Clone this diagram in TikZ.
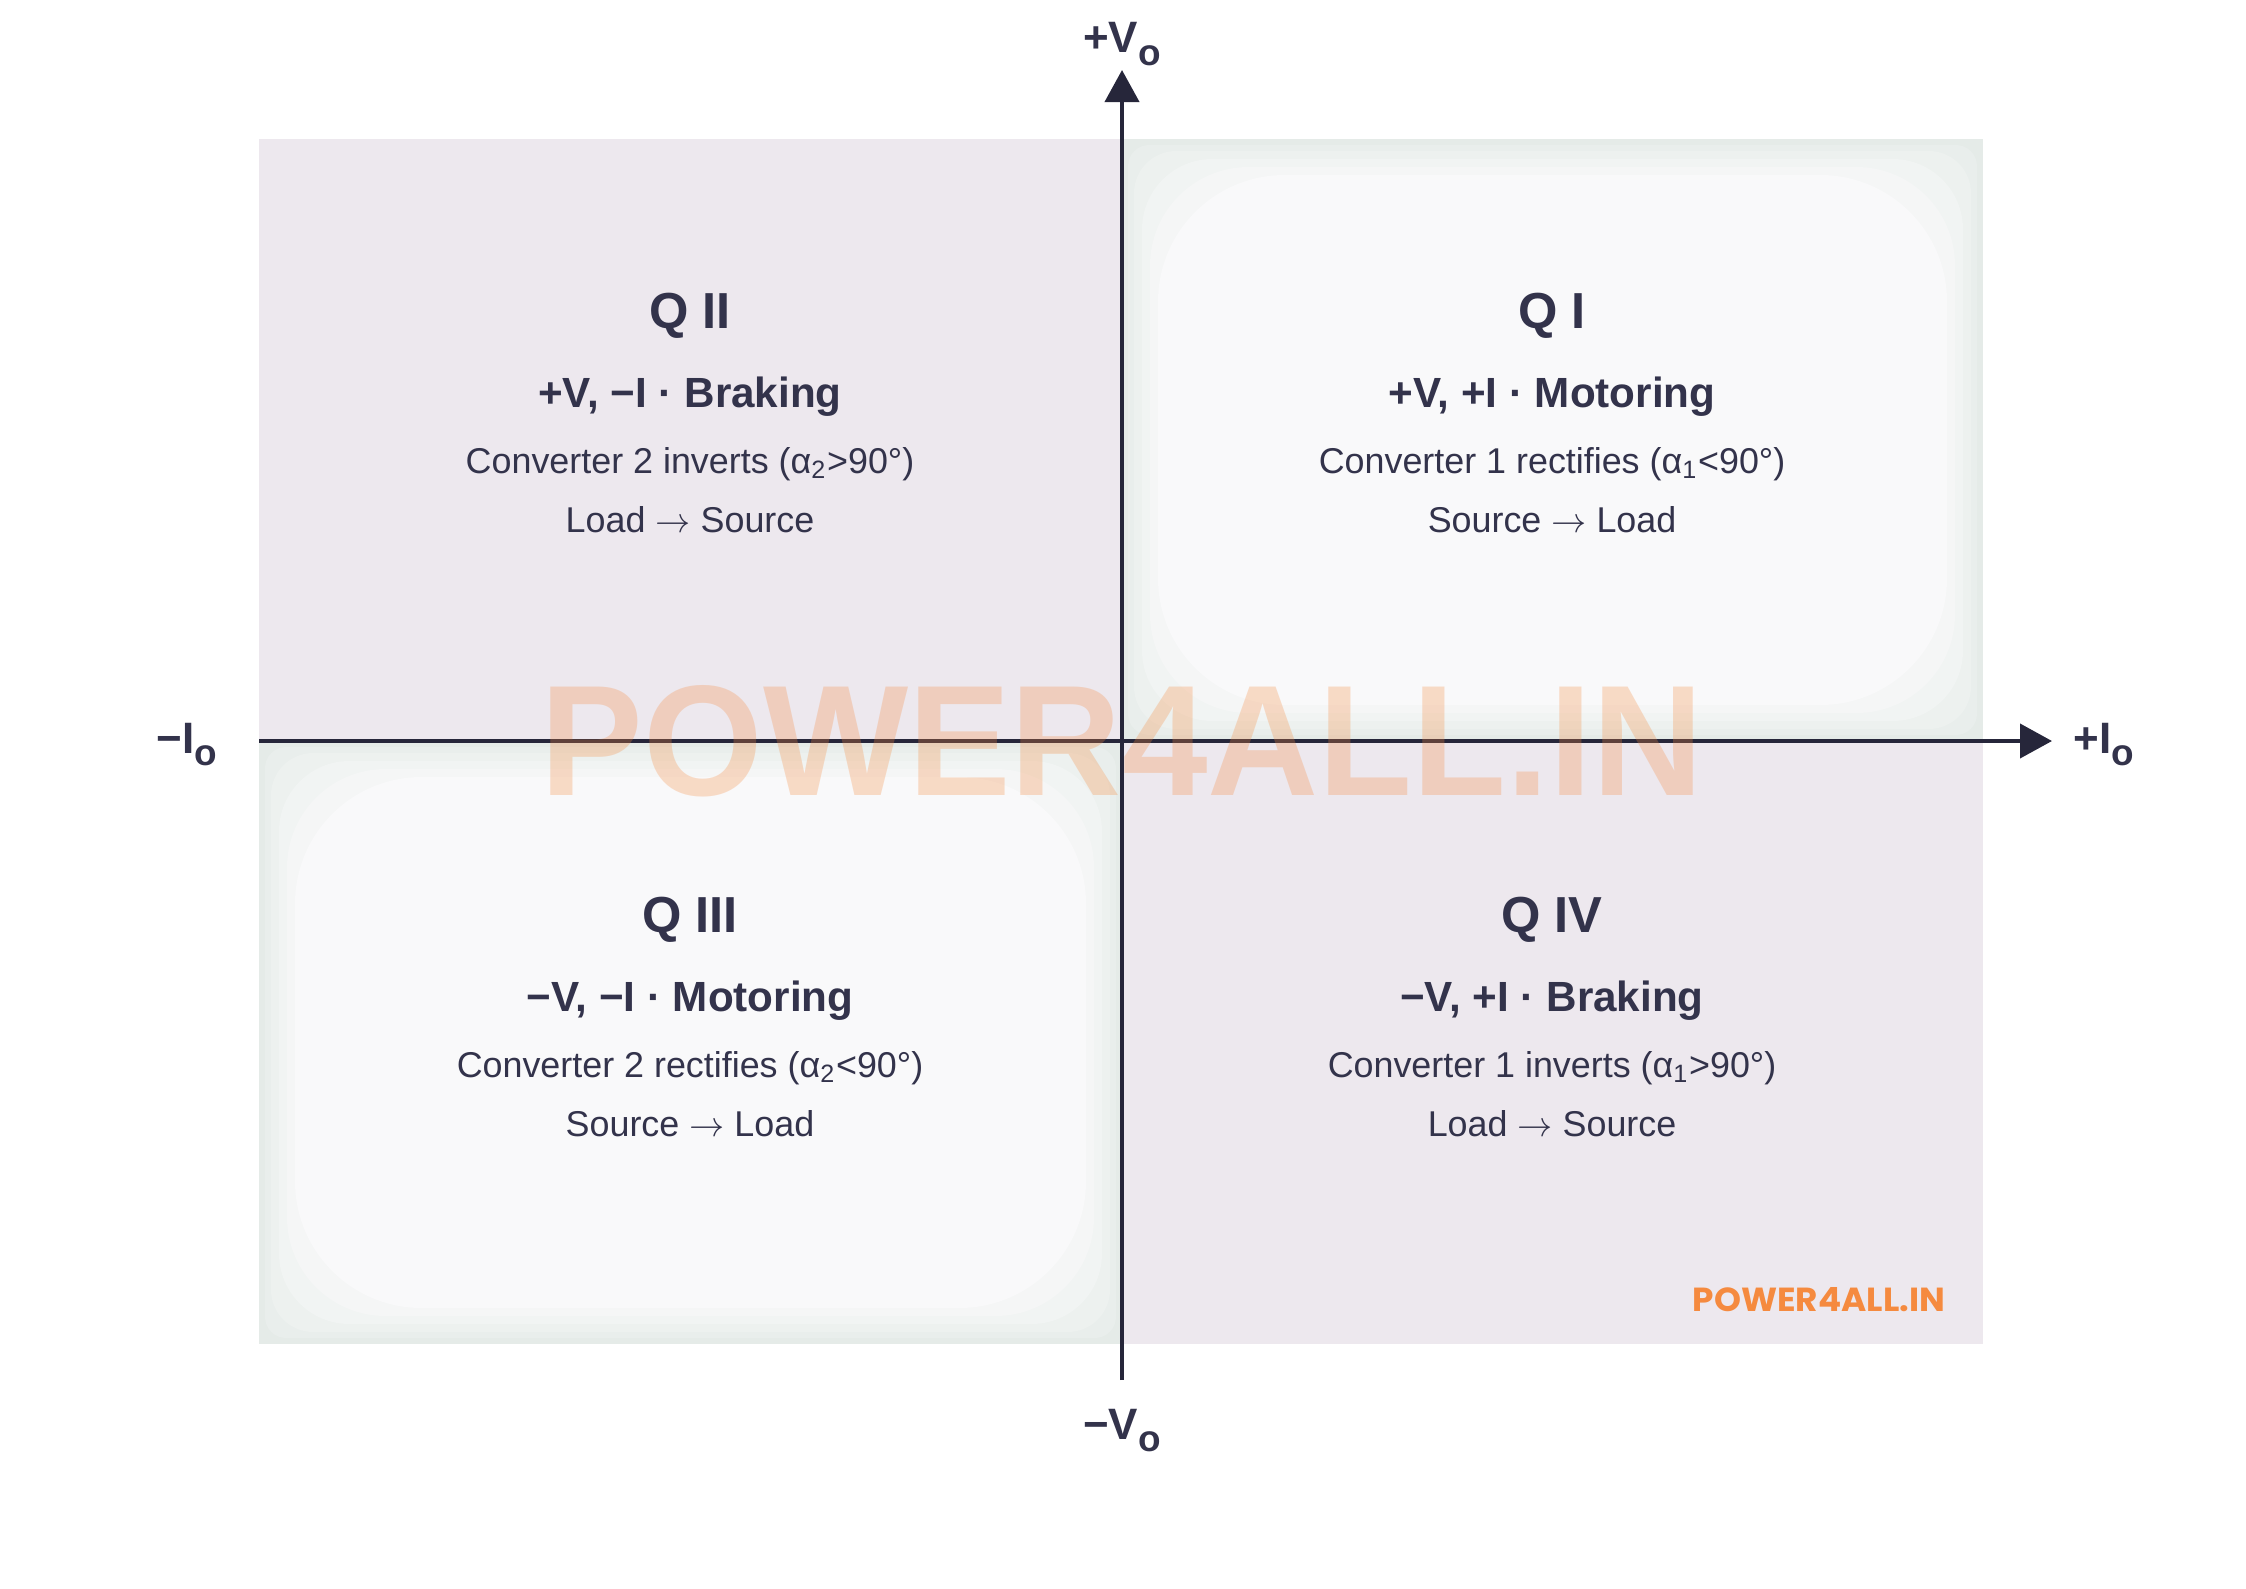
\documentclass[tikz,border=0pt]{standalone}
\usepackage{fontspec}
\setmainfont{Liberation Sans}
\newfontfamily\brandfont{Poppins}
\usepackage{graphicx}
\usetikzlibrary{arrows.meta}

\definecolor{inkc}{HTML}{33334B}
\definecolor{axisc}{HTML}{26263A}
\definecolor{brakec}{HTML}{EDE8EE}
\definecolor{motorc}{HTML}{F9F9FA}
\definecolor{motoredge}{HTML}{E5EBE8}
\definecolor{brandc}{HTML}{F58A3F}

\newcommand{\subo}{\raisebox{-0.12cm}{\fontsize{10.5}{12}\selectfont o}}

\begin{document}
\begin{tikzpicture}[x=0.01cm, y=-0.01cm]
  \useasboundingbox (0,0) rectangle (2246,1588);

  \tikzstyle{qTitle}=[text=inkc, font=\fontsize{14.4}{17}\selectfont\bfseries, anchor=base];
  \tikzstyle{qMode}=[text=inkc, font=\fontsize{12}{14}\selectfont\bfseries, anchor=base];
  \tikzstyle{qText}=[text=inkc, font=\fontsize{10.2}{12}\selectfont, anchor=base];
  \tikzstyle{axLabel}=[text=inkc, font=\fontsize{12.5}{14}\selectfont\bfseries, anchor=base];
  \tikzstyle{axis}=[draw=axisc, line width=0.04cm, -{Triangle[length=0.32cm, width=0.34cm]}];

  % quadrant backgrounds
  \fill[brakec] (259,139) rectangle (1122,741);
  \fill[brakec] (1122,741) rectangle (1983,1344);
  \foreach \xa/\ya/\xb/\yb in {1122/139/1983/741, 259/741/1122/1344} {
    \foreach \d/\p in {0/0, 6/20, 12/40, 20/60, 28/80, 36/100} {
      \fill[motorc!\p!motoredge, rounded corners=\d] (\xa+\d,\ya+\d) rectangle (\xb-\d,\yb-\d);
    }
  }

  % axes
  \coordinate (O) at (1122,741);
  \coordinate (xneg) at (259,741);
  \coordinate (xpos) at (2052,741);
  \coordinate (yneg) at (1122,1380);
  \coordinate (ypos) at (1122,70);
  \draw[axis] (xneg) -- (xpos);
  \draw[axis] (yneg) -- (ypos);

  \node[axLabel] (vpos) at (1122,53) {+V\subo};
  \node[axLabel] (vneg) at (1122,1439) {−V\subo};
  \node[axLabel] (ineg) at (187,753) {−I\subo};
  \node[axLabel] (ipos) at (2104,753) {+I\subo};

  % Q II
  \node[qTitle] (q2) at (690,328) {Q II};
  \node[qMode] (q2mode) at (690,407) {+V, −I · Braking};
  \node[qText] (q2conv) at (690,473) {Converter 2 inverts (α\textsubscript{2}>90°)};
  \node[qText] (q2flow) at (690,532) {Load $\rightarrow$ Source};

  % Q I
  \node[qTitle] (q1) at (1552,328) {Q I};
  \node[qMode] (q1mode) at (1552,407) {+V, +I · Motoring};
  \node[qText] (q1conv) at (1552,473) {Converter 1 rectifies (α\textsubscript{1}<90°)};
  \node[qText] (q1flow) at (1552,532) {Source $\rightarrow$ Load};

  % Q III
  \node[qTitle] (q3) at (690,932) {Q III};
  \node[qMode] (q3mode) at (690,1011) {−V, −I · Motoring};
  \node[qText] (q3conv) at (690,1077) {Converter 2 rectifies (α\textsubscript{2}<90°)};
  \node[qText] (q3flow) at (690,1136) {Source $\rightarrow$ Load};

  % Q IV
  \node[qTitle] (q4) at (1552,932) {Q IV};
  \node[qMode] (q4mode) at (1552,1011) {−V, +I · Braking};
  \node[qText] (q4conv) at (1552,1077) {Converter 1 inverts (α\textsubscript{1}>90°)};
  \node[qText] (q4flow) at (1552,1136) {Load $\rightarrow$ Source};

  % watermarks
  \node[text=brandc, opacity=0.28, font=\bfseries, inner sep=0pt] (wmark) at (O) {\resizebox{11.61cm}{1.10cm}{POWER4ALL.IN}};
  \node[text=brandc, font=\brandfont\bfseries, inner sep=0pt] (brand) at (1819,1300) {\resizebox{2.52cm}{0.24cm}{POWER4ALL.IN}};
\end{tikzpicture}
\end{document}
